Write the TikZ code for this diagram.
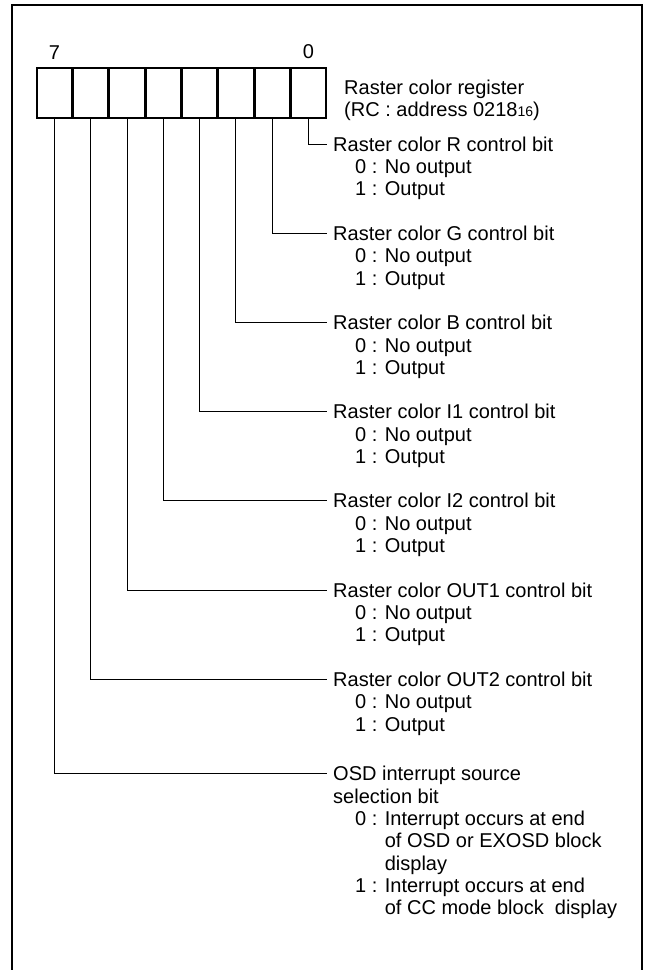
\documentclass[tikz,border=0pt]{standalone}
\usepackage{fontspec}
\setmainfont{Liberation Sans}
\usetikzlibrary{positioning}

\begin{document}
\begin{tikzpicture}[
  x=1pt,y=-1pt,
  txt/.style={font=\fontsize{20}{22.3}\selectfont},
  cell/.style={draw,line width=1.5pt,minimum width=34.8pt,minimum height=50pt,inner sep=0pt},
  hd/.style={txt,anchor=west,inner xsep=6pt,inner ysep=0pt,text height=14pt,text depth=0pt},
  sub/.style={txt,align=left,inner sep=0pt},
  lead/.style={line width=1pt},
  frame/.style={line width=2.8pt}
]
\useasboundingbox (0,0) rectangle (647,970);
\draw[frame] (12,990) -- (12,5) -- (642,5) -- (642,990);

% register cells, bit 7 on the left
\node[cell] (c7) at (54.4,93) {};
\node[cell,right=0pt of c7] (c6) {};
\node[cell,right=0pt of c6] (c5) {};
\node[cell,right=0pt of c5] (c4) {};
\node[cell,right=0pt of c4] (c3) {};
\node[cell,right=0pt of c3] (c2) {};
\node[cell,right=0pt of c2] (c1) {};
\node[cell,right=0pt of c1] (c0) {};
\node[txt,inner sep=0pt,above=8pt of c7] (n7) {7};
\node[txt,inner sep=0pt,above=8pt of c0] (n0) {0};
\node[sub,anchor=north west] (reg) at (344,80)
  {Raster color register\\(RC : address 0218{\fontsize{14}{14}\selectfont 16})};

% bit descriptions
\node[hd] (hR) at (327,144) {Raster color R control bit};
\node[sub,below right=8.3pt and 28pt of hR.south west] (sR) {0 : No output\\1 : Output};
\node[hd] (hG) at (327,233.2) {Raster color G control bit};
\node[sub,below right=8.3pt and 28pt of hG.south west] (sG) {0 : No output\\1 : Output};
\node[hd] (hB) at (327,322.4) {Raster color B control bit};
\node[sub,below right=8.3pt and 28pt of hB.south west] (sB) {0 : No output\\1 : Output};
\node[hd] (hI1) at (327,411.6) {Raster color I1 control bit};
\node[sub,below right=8.3pt and 28pt of hI1.south west] (sI1) {0 : No output\\1 : Output};
\node[hd] (hI2) at (327,500.8) {Raster color I2 control bit};
\node[sub,below right=8.3pt and 28pt of hI2.south west] (sI2) {0 : No output\\1 : Output};
\node[hd] (hO1) at (327,590) {Raster color OUT1 control bit};
\node[sub,below right=8.3pt and 28pt of hO1.south west] (sO1) {0 : No output\\1 : Output};
\node[hd] (hO2) at (327,679.2) {Raster color OUT2 control bit};
\node[sub,below right=8.3pt and 28pt of hO2.south west] (sO2) {0 : No output\\1 : Output};
\node[hd] (hOSD) at (327,773) {OSD interrupt source};
\node[sub,below right=8.3pt and 6pt of hOSD.south west] (sOSD)
  {selection bit\\
   \hspace*{22pt}0 : Interrupt occurs at end\\
   \hspace*{22pt}\phantom{0 : }of OSD or EXOSD block\\
   \hspace*{22pt}\phantom{0 : }display\\
   \hspace*{22pt}1 : Interrupt occurs at end\\
   \hspace*{22pt}\phantom{1 : }of CC mode block\ \ display};

\draw[lead] (c0.south) |- (hR.west);
\draw[lead] (c1.south) |- (hG.west);
\draw[lead] (c2.south) |- (hB.west);
\draw[lead] (c3.south) |- (hI1.west);
\draw[lead] (c4.south) |- (hI2.west);
\draw[lead] (c5.south) |- (hO1.west);
\draw[lead] (c6.south) |- (hO2.west);
\draw[lead] (c7.south) |- (hOSD.west);
\end{tikzpicture}
\end{document}
